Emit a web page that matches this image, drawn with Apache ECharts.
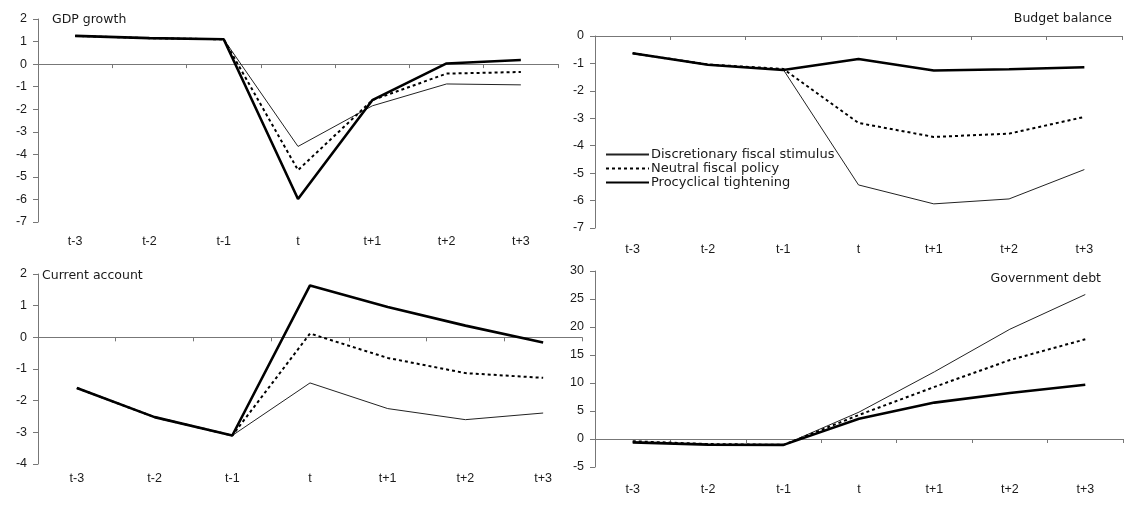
<!DOCTYPE html>
<html>
<head>
<meta charset="utf-8">
<script src="https://cdn.jsdelivr.net/npm/echarts@6/dist/echarts.min.js"></script>
<style>
html,body{margin:0;padding:0;background:#fff;}
#c{width:1126px;height:506px;}
</style>
</head>
<body>
<div id="c"></div>
<script>
var categories = ['t-3','t-2','t-1','t','t+1','t+2','t+3'];
var seriesNames = ['Discretionary fiscal stimulus','Neutral fiscal policy','Procyclical tightening'];
var panelTitles = ['GDP growth','Budget balance','Current account','Government debt'];

var gdpStimulus = [1.25, 1.15, 1.1, -3.65, -1.85, -0.88, -0.92];
var gdpNeutral  = [1.25, 1.15, 1.1, -4.7, -1.6, -0.42, -0.35];
var gdpTight    = [1.25, 1.15, 1.1, -5.98, -1.6, 0.03, 0.18];

var budgetStimulus = [-0.63, -1.05, -1.22, -5.43, -6.12, -5.94, -4.87];
var budgetNeutral  = [-0.63, -1.04, -1.2, -3.17, -3.68, -3.56, -2.95];
var budgetTight    = [-0.63, -1.05, -1.24, -0.84, -1.26, -1.21, -1.14];

var caStimulus = [-1.6, -2.52, -3.1, -1.44, -2.25, -2.6, -2.39];
var caNeutral  = [-1.6, -2.52, -3.1, 0.12, -0.65, -1.13, -1.28];
var caTight    = [-1.6, -2.52, -3.1, 1.64, 0.96, 0.37, -0.16];

var debtStimulus = [-0.6, -1.0, -1.05, 4.8, 12.0, 19.6, 25.8];
var debtNeutral  = [-0.4, -0.9, -1.05, 4.3, 9.3, 14.1, 17.8];
var debtTight    = [-0.6, -1.0, -1.05, 3.6, 6.5, 8.2, 9.7];

var yRanges = [[-7, 2, 1], [-7, 0, 1], [-4, 2, 1], [-5, 30, 5]];

var FONT = 'Liberation Sans, Arial, sans-serif';
var WFONT = 'DejaVu Sans, Verdana, sans-serif';
var TXT = '#1a1a1a';
var AXC = '#777777';

var grids = [
  {left: 38, top: 19, width: 520, height: 203},
  {left: 595, top: 36, width: 527, height: 192},
  {left: 38, top: 274, width: 544, height: 190},
  {left: 595, top: 271, width: 528, height: 196}
];
var labelMargins = [13, 15, 8, 16];

var xAxes = [], yAxes = [], series = [];
var panelData = [
  [gdpStimulus, gdpNeutral, gdpTight],
  [budgetStimulus, budgetNeutral, budgetTight],
  [caStimulus, caNeutral, caTight],
  [debtStimulus, debtNeutral, debtTight]
];
var styles = [
  {color: '#222', width: 1, type: 'solid'},
  {color: '#000', width: 2, type: [3, 3]},
  {color: '#000', width: 2.6, type: 'solid'}
];

for (var g = 0; g < 4; g++) {
  xAxes.push({
    type: 'category', gridIndex: g, data: categories, position: 'bottom',
    boundaryGap: true,
    axisLine: {show: false, onZero: false},
    axisTick: {show: false},
    axisLabel: {color: TXT, fontFamily: FONT, fontSize: 12.5, margin: labelMargins[g], interval: 0}
  });
  xAxes.push({
    type: 'category', gridIndex: g, data: categories, position: 'bottom',
    boundaryGap: true,
    axisLine: {show: true, onZero: true, lineStyle: {color: AXC, width: 1}},
    axisTick: {show: true, length: 4, inside: false, lineStyle: {color: AXC, width: 1}},
    axisLabel: {show: false}
  });
  yAxes.push({
    type: 'value', gridIndex: g, min: yRanges[g][0], max: yRanges[g][1], interval: yRanges[g][2],
    axisLine: {show: true, onZero: false, lineStyle: {color: AXC, width: 1}},
    axisTick: {show: true, length: 5, lineStyle: {color: AXC, width: 1}},
    axisLabel: {color: TXT, fontFamily: FONT, fontSize: 12.5, margin: 11},
    splitLine: {show: false}
  });
  for (var s = 0; s < 3; s++) {
    series.push({
      name: seriesNames[s], type: 'line', xAxisIndex: g * 2, yAxisIndex: g,
      data: panelData[g][s], symbol: 'none', smooth: false, animation: false,
      lineStyle: styles[s], itemStyle: {color: styles[s].color}, z: 3 + s
    });
  }
}

var titleStyle = {color: TXT, fontFamily: WFONT, fontSize: 12.5, fontWeight: 'normal'};
var option = {
  backgroundColor: '#fff',
  animation: false,
  title: [
    {text: panelTitles[0], left: 52, top: 13, padding: 0, textStyle: titleStyle},
    {text: panelTitles[1], right: 14, top: 12, padding: 0, textStyle: titleStyle},
    {text: panelTitles[2], left: 42, top: 269, padding: 0, textStyle: titleStyle},
    {text: panelTitles[3], right: 25, top: 272, padding: 0, textStyle: titleStyle}
  ],
  legend: {
    data: seriesNames, orient: 'vertical', left: 605, top: 148, padding: 0,
    itemWidth: 43, itemHeight: 12, itemGap: 1,
    itemStyle: {opacity: 0},
    textStyle: {color: TXT, fontFamily: WFONT, fontSize: 13, padding: [0, 0, 0, -3]},
    selectedMode: false
  },
  grid: grids,
  xAxis: xAxes,
  yAxis: yAxes,
  series: series
};
var chart = echarts.init(document.getElementById('c'));
chart.setOption(option);
</script>
</body>
</html>
